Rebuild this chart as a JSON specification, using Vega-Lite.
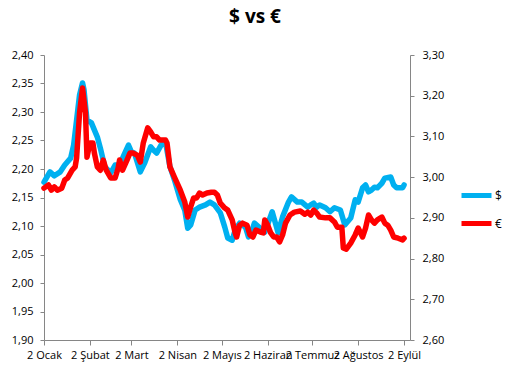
{
  "$schema": "https://vega.github.io/schema/vega-lite/v6.json",
  "width": 366,
  "height": 285,
  "autosize": "none",
  "padding": {"left": 44, "top": 55, "right": 100, "bottom": 37},
  "background": "white",
  "title": {"text": "$ vs €", "fontSize": 19, "font": "Open Sans", "fontWeight": "bold", "color": "black", "dx": 28, "offset": 22},
  "config": {
    "view": {"stroke": null},
    "axis": {"grid": false, "domainColor": "#868686", "tickColor": "#868686", "labelFont": "Open Sans", "labelFontSize": 11, "labelColor": "black", "title": null}
  },
  "data": {"values": [
    {"d":"2014-01-02","s":"$","v":2.177},{"d":"2014-01-06","s":"$","v":2.195},{"d":"2014-01-09","s":"$","v":2.188},{"d":"2014-01-13","s":"$","v":2.195},{"d":"2014-01-16","s":"$","v":2.207},{"d":"2014-01-20","s":"$","v":2.219},{"d":"2014-01-22","s":"$","v":2.242},{"d":"2014-01-24","s":"$","v":2.286},{"d":"2014-01-26","s":"$","v":2.330},{"d":"2014-01-28","s":"$","v":2.351},{"d":"2014-01-29","s":"$","v":2.339},{"d":"2014-01-31","s":"$","v":2.286},{"d":"2014-02-03","s":"$","v":2.281},{"d":"2014-02-07","s":"$","v":2.256},{"d":"2014-02-09","s":"$","v":2.237},{"d":"2014-02-12","s":"$","v":2.204},{"d":"2014-02-16","s":"$","v":2.193},{"d":"2014-02-19","s":"$","v":2.207},{"d":"2014-02-22","s":"$","v":2.207},{"d":"2014-02-25","s":"$","v":2.225},{"d":"2014-02-28","s":"$","v":2.242},{"d":"2014-03-02","s":"$","v":2.230},{"d":"2014-03-04","s":"$","v":2.228},{"d":"2014-03-08","s":"$","v":2.195},{"d":"2014-03-11","s":"$","v":2.211},{"d":"2014-03-15","s":"$","v":2.239},{"d":"2014-03-17","s":"$","v":2.233},{"d":"2014-03-19","s":"$","v":2.228},{"d":"2014-03-22","s":"$","v":2.242},{"d":"2014-03-25","s":"$","v":2.247},{"d":"2014-03-28","s":"$","v":2.204},{"d":"2014-03-31","s":"$","v":2.181},{"d":"2014-04-04","s":"$","v":2.146},{"d":"2014-04-07","s":"$","v":2.128},{"d":"2014-04-09","s":"$","v":2.096},{"d":"2014-04-11","s":"$","v":2.102},{"d":"2014-04-14","s":"$","v":2.128},{"d":"2014-04-17","s":"$","v":2.133},{"d":"2014-04-21","s":"$","v":2.137},{"d":"2014-04-24","s":"$","v":2.142},{"d":"2014-04-27","s":"$","v":2.137},{"d":"2014-05-01","s":"$","v":2.123},{"d":"2014-05-04","s":"$","v":2.098},{"d":"2014-05-06","s":"$","v":2.079},{"d":"2014-05-09","s":"$","v":2.075},{"d":"2014-05-11","s":"$","v":2.093},{"d":"2014-05-14","s":"$","v":2.105},{"d":"2014-05-18","s":"$","v":2.098},{"d":"2014-05-20","s":"$","v":2.081},{"d":"2014-05-22","s":"$","v":2.089},{"d":"2014-05-24","s":"$","v":2.105},{"d":"2014-05-28","s":"$","v":2.096},{"d":"2014-05-31","s":"$","v":2.089},{"d":"2014-06-05","s":"$","v":2.125},{"d":"2014-06-09","s":"$","v":2.088},{"d":"2014-06-12","s":"$","v":2.116},{"d":"2014-06-16","s":"$","v":2.142},{"d":"2014-06-18","s":"$","v":2.151},{"d":"2014-06-22","s":"$","v":2.142},{"d":"2014-06-25","s":"$","v":2.142},{"d":"2014-06-29","s":"$","v":2.133},{"d":"2014-07-01","s":"$","v":2.137},{"d":"2014-07-03","s":"$","v":2.140},{"d":"2014-07-05","s":"$","v":2.133},{"d":"2014-07-07","s":"$","v":2.137},{"d":"2014-07-11","s":"$","v":2.132},{"d":"2014-07-14","s":"$","v":2.125},{"d":"2014-07-17","s":"$","v":2.132},{"d":"2014-07-21","s":"$","v":2.128},{"d":"2014-07-24","s":"$","v":2.102},{"d":"2014-07-28","s":"$","v":2.114},{"d":"2014-07-31","s":"$","v":2.146},{"d":"2014-08-02","s":"$","v":2.142},{"d":"2014-08-05","s":"$","v":2.167},{"d":"2014-08-07","s":"$","v":2.172},{"d":"2014-08-09","s":"$","v":2.160},{"d":"2014-08-11","s":"$","v":2.163},{"d":"2014-08-13","s":"$","v":2.168},{"d":"2014-08-15","s":"$","v":2.167},{"d":"2014-08-18","s":"$","v":2.175},{"d":"2014-08-20","s":"$","v":2.184},{"d":"2014-08-24","s":"$","v":2.186},{"d":"2014-08-26","s":"$","v":2.172},{"d":"2014-08-28","s":"$","v":2.167},{"d":"2014-09-01","s":"$","v":2.167},{"d":"2014-09-02","s":"$","v":2.172},
    {"d":"2014-01-02","s":"€","v":2.973},{"d":"2014-01-05","s":"€","v":2.981},{"d":"2014-01-07","s":"€","v":2.968},{"d":"2014-01-09","s":"€","v":2.976},{"d":"2014-01-11","s":"€","v":2.968},{"d":"2014-01-14","s":"€","v":2.973},{"d":"2014-01-16","s":"€","v":2.993},{"d":"2014-01-18","s":"€","v":2.998},{"d":"2014-01-21","s":"€","v":3.017},{"d":"2014-01-23","s":"€","v":3.025},{"d":"2014-01-24","s":"€","v":3.047},{"d":"2014-01-26","s":"€","v":3.158},{"d":"2014-01-28","s":"€","v":3.219},{"d":"2014-01-30","s":"€","v":3.158},{"d":"2014-01-31","s":"€","v":3.049},{"d":"2014-02-02","s":"€","v":3.084},{"d":"2014-02-04","s":"€","v":3.084},{"d":"2014-02-05","s":"€","v":3.059},{"d":"2014-02-07","s":"€","v":3.025},{"d":"2014-02-09","s":"€","v":3.017},{"d":"2014-02-11","s":"€","v":3.042},{"d":"2014-02-13","s":"€","v":3.017},{"d":"2014-02-16","s":"€","v":2.998},{"d":"2014-02-19","s":"€","v":2.998},{"d":"2014-02-21","s":"€","v":3.022},{"d":"2014-02-22","s":"€","v":3.042},{"d":"2014-02-24","s":"€","v":3.017},{"d":"2014-02-27","s":"€","v":3.042},{"d":"2014-03-01","s":"€","v":3.059},{"d":"2014-03-03","s":"€","v":3.059},{"d":"2014-03-06","s":"€","v":3.054},{"d":"2014-03-08","s":"€","v":3.037},{"d":"2014-03-10","s":"€","v":3.084},{"d":"2014-03-13","s":"€","v":3.121},{"d":"2014-03-15","s":"€","v":3.111},{"d":"2014-03-17","s":"€","v":3.099},{"d":"2014-03-19","s":"€","v":3.099},{"d":"2014-03-21","s":"€","v":3.091},{"d":"2014-03-25","s":"€","v":3.091},{"d":"2014-03-26","s":"€","v":3.084},{"d":"2014-03-28","s":"€","v":3.025},{"d":"2014-03-31","s":"€","v":3.000},{"d":"2014-04-04","s":"€","v":2.968},{"d":"2014-04-07","s":"€","v":2.939},{"d":"2014-04-09","s":"€","v":2.902},{"d":"2014-04-11","s":"€","v":2.927},{"d":"2014-04-13","s":"€","v":2.949},{"d":"2014-04-15","s":"€","v":2.949},{"d":"2014-04-17","s":"€","v":2.961},{"d":"2014-04-19","s":"€","v":2.956},{"d":"2014-04-22","s":"€","v":2.961},{"d":"2014-04-25","s":"€","v":2.963},{"d":"2014-04-27","s":"€","v":2.963},{"d":"2014-04-29","s":"€","v":2.956},{"d":"2014-05-01","s":"€","v":2.936},{"d":"2014-05-04","s":"€","v":2.924},{"d":"2014-05-06","s":"€","v":2.919},{"d":"2014-05-09","s":"€","v":2.895},{"d":"2014-05-11","s":"€","v":2.863},{"d":"2014-05-12","s":"€","v":2.853},{"d":"2014-05-14","s":"€","v":2.882},{"d":"2014-05-16","s":"€","v":2.887},{"d":"2014-05-19","s":"€","v":2.882},{"d":"2014-05-21","s":"€","v":2.858},{"d":"2014-05-23","s":"€","v":2.853},{"d":"2014-05-25","s":"€","v":2.870},{"d":"2014-05-28","s":"€","v":2.865},{"d":"2014-05-30","s":"€","v":2.863},{"d":"2014-05-31","s":"€","v":2.895},{"d":"2014-06-02","s":"€","v":2.882},{"d":"2014-06-04","s":"€","v":2.863},{"d":"2014-06-06","s":"€","v":2.853},{"d":"2014-06-08","s":"€","v":2.853},{"d":"2014-06-10","s":"€","v":2.841},{"d":"2014-06-12","s":"€","v":2.858},{"d":"2014-06-14","s":"€","v":2.887},{"d":"2014-06-17","s":"€","v":2.907},{"d":"2014-06-20","s":"€","v":2.914},{"d":"2014-06-24","s":"€","v":2.917},{"d":"2014-06-27","s":"€","v":2.909},{"d":"2014-06-29","s":"€","v":2.914},{"d":"2014-07-01","s":"€","v":2.907},{"d":"2014-07-03","s":"€","v":2.919},{"d":"2014-07-05","s":"€","v":2.912},{"d":"2014-07-07","s":"€","v":2.902},{"d":"2014-07-11","s":"€","v":2.900},{"d":"2014-07-14","s":"€","v":2.900},{"d":"2014-07-17","s":"€","v":2.890},{"d":"2014-07-19","s":"€","v":2.877},{"d":"2014-07-22","s":"€","v":2.877},{"d":"2014-07-23","s":"€","v":2.826},{"d":"2014-07-25","s":"€","v":2.823},{"d":"2014-07-28","s":"€","v":2.838},{"d":"2014-07-31","s":"€","v":2.858},{"d":"2014-08-02","s":"€","v":2.875},{"d":"2014-08-05","s":"€","v":2.853},{"d":"2014-08-07","s":"€","v":2.875},{"d":"2014-08-09","s":"€","v":2.907},{"d":"2014-08-11","s":"€","v":2.895},{"d":"2014-08-13","s":"€","v":2.887},{"d":"2014-08-15","s":"€","v":2.895},{"d":"2014-08-18","s":"€","v":2.902},{"d":"2014-08-20","s":"€","v":2.887},{"d":"2014-08-22","s":"€","v":2.882},{"d":"2014-08-24","s":"€","v":2.870},{"d":"2014-08-26","s":"€","v":2.853},{"d":"2014-08-29","s":"€","v":2.850},{"d":"2014-09-01","s":"€","v":2.846},{"d":"2014-09-02","s":"€","v":2.850}
  ]},
  "encoding": {
    "x": {
      "field": "d", "type": "temporal",
      "scale": {"type": "utc", "domain": [{"year": 2014, "month": 1, "date": 2, "utc": true}, {"year": 2014, "month": 9, "date": 6, "utc": true}]},
      "axis": {
        "values": [
          {"year": 2014, "month": 1, "date": 2, "utc": true},
          {"year": 2014, "month": 2, "date": 2, "utc": true},
          {"year": 2014, "month": 3, "date": 2, "utc": true},
          {"year": 2014, "month": 4, "date": 2, "utc": true},
          {"year": 2014, "month": 5, "date": 2, "utc": true},
          {"year": 2014, "month": 6, "date": 2, "utc": true},
          {"year": 2014, "month": 7, "date": 2, "utc": true},
          {"year": 2014, "month": 8, "date": 2, "utc": true},
          {"year": 2014, "month": 9, "date": 2, "utc": true}
        ],
        "labelExpr": "utcdate(datum.value) + ' ' + ['Ocak','Şubat','Mart','Nisan','Mayıs','Haziran','Temmuz','Ağustos','Eylül','Ekim','Kasım','Aralık'][utcmonth(datum.value)]",
        "labelOverlap": false, "labelFlush": false, "tickSize": 5, "labelPadding": 4
      }
    },
    "color": {
      "field": "s", "type": "nominal",
      "scale": {"domain": ["$", "€"], "range": ["#00B0F0", "#FF0000"]},
      "legend": {"title": null, "orient": "none", "legendX": 415, "legendY": 123, "symbolType": "stroke", "symbolStrokeWidth": 5, "symbolSize": 900, "labelFont": "Open Sans", "labelFontSize": 12, "labelColor": "black", "labelOffset": 1, "rowPadding": -6}
    }
  },
  "layer": [
    {
      "transform": [{"filter": "datum.s === '$'"}],
      "mark": {"type": "line", "strokeWidth": 5.5, "strokeJoin": "round", "strokeCap": "round"},
      "encoding": {
        "y": {"field": "v", "type": "quantitative",
          "scale": {"domain": [1.9, 2.4], "zero": false, "nice": false},
          "axis": {"orient": "left", "values": [1.9, 1.95, 2.0, 2.05, 2.1, 2.15, 2.2, 2.25, 2.3, 2.35, 2.4], "labelExpr": "replace(format(datum.value, '.2f'), '.', ',')", "tickSize": 4, "labelPadding": 7}}
      }
    },
    {
      "transform": [{"filter": "datum.s === '€'"}],
      "mark": {"type": "line", "strokeWidth": 5.5, "strokeJoin": "round", "strokeCap": "round"},
      "encoding": {
        "y": {"field": "v", "type": "quantitative",
          "scale": {"domain": [2.6, 3.3], "zero": false, "nice": false},
          "axis": {"orient": "right", "values": [2.6, 2.7, 2.8, 2.9, 3.0, 3.1, 3.2, 3.3], "labelExpr": "replace(format(datum.value, '.2f'), '.', ',')", "tickSize": 4, "labelPadding": 8}}
      }
    }
  ],
  "resolve": {"scale": {"y": "independent"}}
}
